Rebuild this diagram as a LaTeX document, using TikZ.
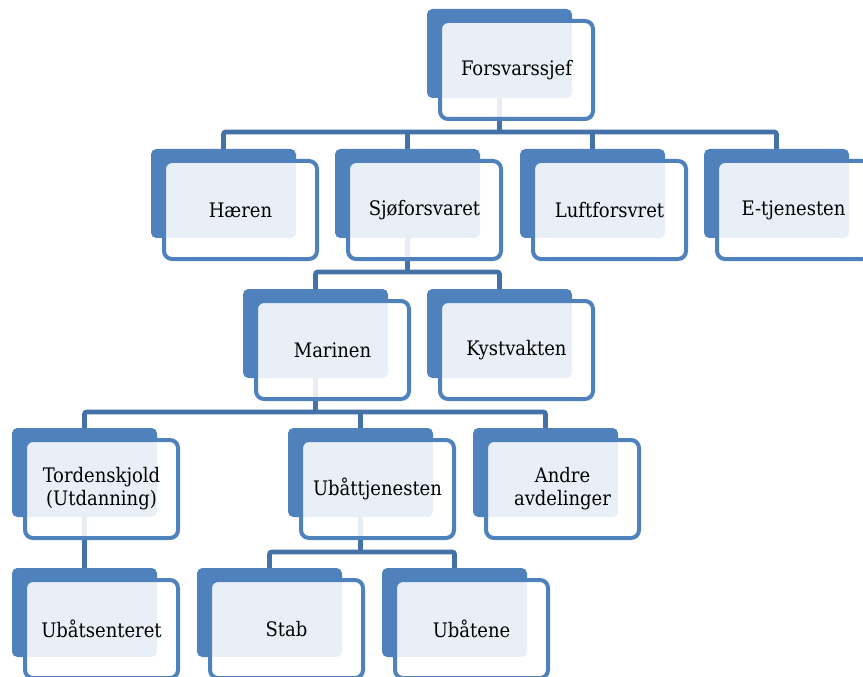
\documentclass[tikz,border=0pt]{standalone}
\usepackage{fontspec}
\setmainfont{DejaVu Serif Condensed}
\definecolor{boxblue}{HTML}{4F81BD}
\definecolor{linkblue}{HTML}{4471A8}
\definecolor{txt}{HTML}{000000}
\begin{document}
\begin{tikzpicture}[x=0.75pt,y=-0.75pt,
  backbox/.style={fill=boxblue,draw=none,rounded corners=4pt,minimum width=108.75pt,minimum height=66.75pt,inner sep=0pt,outer sep=0pt},
  frontbox/.style={fill=white,fill opacity=0.88,text opacity=1,draw=boxblue,line width=3pt,rounded corners=6pt,minimum width=114.75pt,minimum height=73.5pt,inner sep=0pt,outer sep=0pt,align=center,text=txt,font=\fontsize{15pt}{17.25pt}\selectfont},
  conn/.style={draw=linkblue,line width=3.4pt,rounded corners=1.5pt}]
\useasboundingbox (0,0) rectangle (863,677);
\fill[white] (0,0) rectangle (863,677);
% back boxes
\node[backbox] (fb) at (499.5,53.5) {};
\node[backbox] (hb) at (223.5,193.5) {};
\node[backbox] (sb) at (407.5,193.5) {};
\node[backbox] (lb) at (592.5,193.5) {};
\node[backbox] (eb) at (776.5,193.5) {};
\node[backbox] (mb) at (315.5,333.5) {};
\node[backbox] (kb) at (499.5,333.5) {};
\node[backbox] (tb) at (84.5,472.5) {};
\node[backbox] (ub) at (360.5,472.5) {};
\node[backbox] (ab) at (545.5,472.5) {};
\node[backbox] (usb) at (84.5,612.5) {};
\node[backbox] (stb) at (269.5,612.5) {};
\node[backbox] (ubb) at (454.5,612.5) {};
% levels of connectors
\coordinate (l1) at (0,132);
\coordinate (l2) at (0,272);
\coordinate (l3) at (0,412);
\coordinate (l4) at (0,552);
% connectors
\draw[conn] (fb.south) -- (fb.south |- l1);
\draw[conn] (hb.north) -- (hb.north |- l1) -- (eb.north |- l1) -- (eb.north);
\draw[conn] (sb.north) -- (sb.north |- l1);
\draw[conn] (lb.north) -- (lb.north |- l1);
\draw[conn] (sb.south) -- (sb.south |- l2);
\draw[conn] (mb.north) -- (mb.north |- l2) -- (kb.north |- l2) -- (kb.north);
\draw[conn] (mb.south) -- (mb.south |- l3);
\draw[conn] (tb.north) -- (tb.north |- l3) -- (ab.north |- l3) -- (ab.north);
\draw[conn] (ub.north) -- (ub.north |- l3);
\draw[conn] (tb.south) -- (usb.north);
\draw[conn] (ub.south) -- (ub.south |- l4);
\draw[conn] (stb.north) -- (stb.north |- l4) -- (ubb.north |- l4) -- (ubb.north);
% front boxes
\node[frontbox] (f) at ([shift={(17,16.5)}]fb.center) {Forsvarssjef};
\node[frontbox] (h) at ([shift={(17,16.5)}]hb.center) {Hæren};
\node[frontbox] (s) at ([shift={(17,16.5)}]sb.center) {Sjøforsvaret};
\node[frontbox] (l) at ([shift={(17,16.5)}]lb.center) {Luftforsvret};
\node[frontbox] (e) at ([shift={(17,16.5)}]eb.center) {E-tjenesten};
\node[frontbox] (m) at ([shift={(17,16.5)}]mb.center) {Marinen};
\node[frontbox] (k) at ([shift={(17,16.5)}]kb.center) {Kystvakten};
\node[frontbox] (t) at ([shift={(17,16.5)}]tb.center) {Tordenskjold\\(Utdanning)};
\node[frontbox] (u) at ([shift={(17,16.5)}]ub.center) {Ubåttjenesten};
\node[frontbox] (a) at ([shift={(17,16.5)}]ab.center) {Andre\\avdelinger};
\node[frontbox] (us) at ([shift={(17,16.5)}]usb.center) {Ubåtsenteret};
\node[frontbox] (st) at ([shift={(17,16.5)}]stb.center) {Stab};
\node[frontbox] (ube) at ([shift={(17,16.5)}]ubb.center) {Ubåtene};
\end{tikzpicture}
\end{document}
